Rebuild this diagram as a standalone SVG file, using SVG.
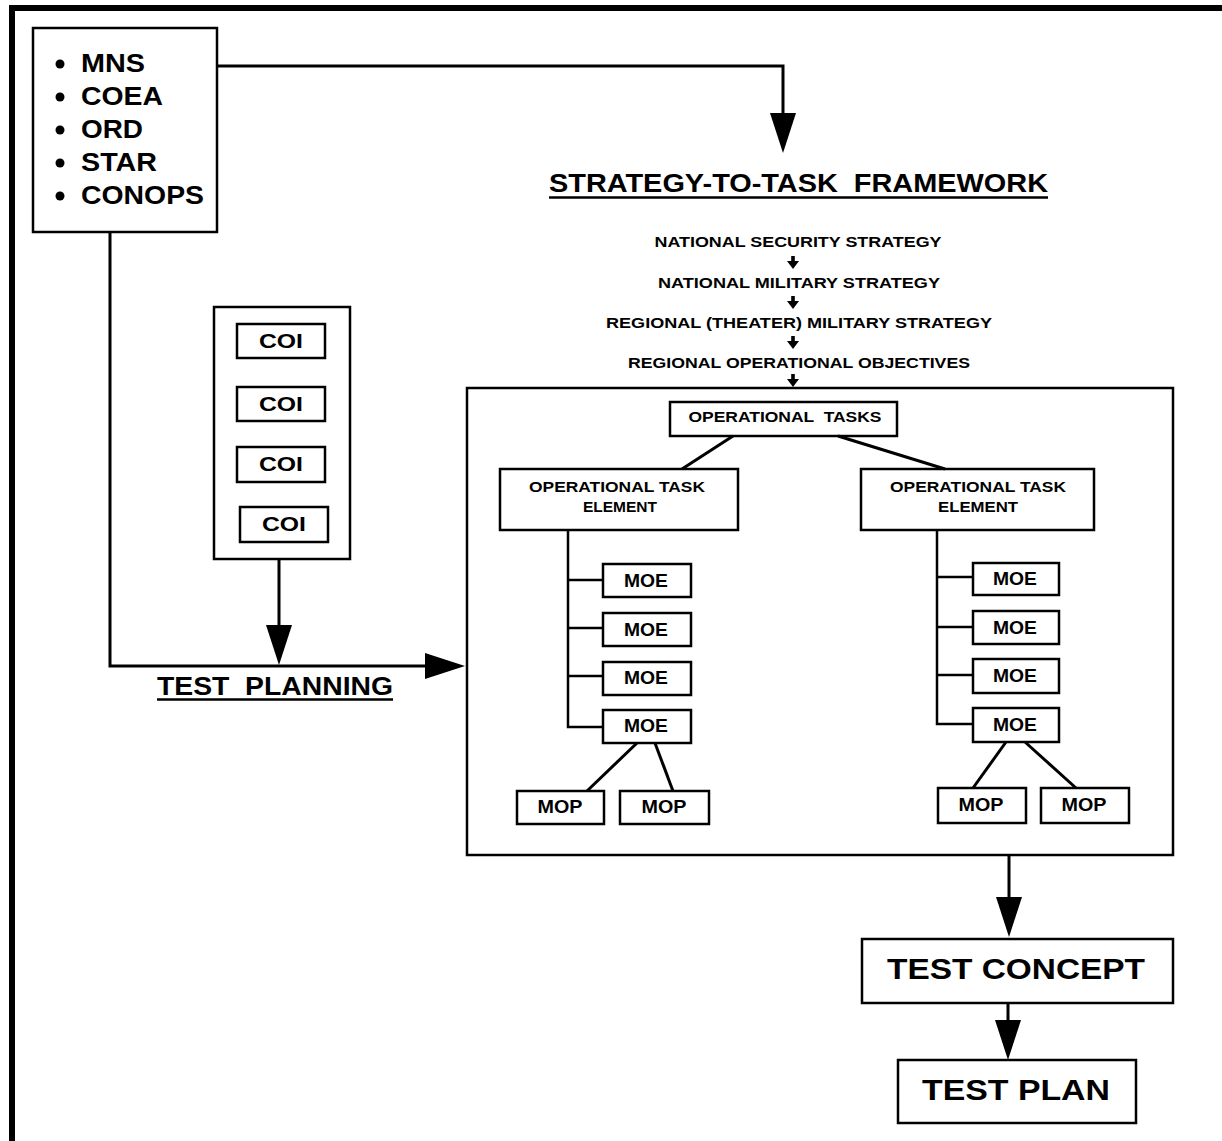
<svg xmlns="http://www.w3.org/2000/svg" width="1222" height="1141" viewBox="0 0 1222 1141">
<style>
.box{fill:#fff;stroke:#000;stroke-width:2.5}
.ln{fill:none;stroke:#000;stroke-width:3}
.thin{fill:none;stroke:#000;stroke-width:2.5}
text{font-family:"Liberation Sans",Arial,Helvetica,sans-serif;font-weight:bold;fill:#000}
.big{font-size:25px}
.hd{font-size:29px;text-anchor:middle}
.sm{font-size:15px;text-anchor:middle}
.mo{font-size:18px;text-anchor:middle}
.coi{font-size:21px;text-anchor:middle}
</style>
<defs>
<marker id="ah" markerUnits="userSpaceOnUse" markerWidth="40" markerHeight="26" viewBox="0 0 40 26" refX="34" refY="13" orient="auto">
<path d="M0,0 L40,13 L0,26 z" fill="#000"/>
</marker>
<path id="sa" d="M-1.8,-7 h3.6 v5 h4.2 L0,6 L-6,-2 h4.2 z" fill="#000"/>
</defs>
<rect width="1222" height="1141" fill="#fff"/>
<g id="frame">
<line x1="9" y1="8" x2="1222" y2="8" stroke="#000" stroke-width="6"/>
<line x1="12" y1="5" x2="12" y2="1141" stroke="#000" stroke-width="6"/>
</g>
<g id="sources">
<rect class="box" x="33" y="28" width="184" height="204"/>
<circle cx="60" cy="64" r="4.5"/><circle cx="60" cy="97" r="4.5"/><circle cx="60" cy="130" r="4.5"/><circle cx="60" cy="163" r="4.5"/><circle cx="60" cy="196" r="4.5"/>
<text class="big" x="81" y="72" textLength="64" lengthAdjust="spacingAndGlyphs">MNS</text>
<text class="big" x="81" y="105" textLength="82" lengthAdjust="spacingAndGlyphs">COEA</text>
<text class="big" x="81" y="138" textLength="62" lengthAdjust="spacingAndGlyphs">ORD</text>
<text class="big" x="81" y="171" textLength="76" lengthAdjust="spacingAndGlyphs">STAR</text>
<text class="big" x="81" y="204" textLength="123" lengthAdjust="spacingAndGlyphs">CONOPS</text>
</g>
<g id="framework-title">
<text x="549" y="192" font-size="26" textLength="499" lengthAdjust="spacingAndGlyphs" xml:space="preserve">STRATEGY-TO-TASK  FRAMEWORK</text>
<line x1="549" y1="197.5" x2="1048" y2="197.5" stroke="#000" stroke-width="2.5"/>
</g>
<g id="strategy">
<text class="sm" x="798" y="247" textLength="287" lengthAdjust="spacingAndGlyphs">NATIONAL SECURITY STRATEGY</text>
<text class="sm" x="799" y="288" textLength="282" lengthAdjust="spacingAndGlyphs">NATIONAL MILITARY STRATEGY</text>
<text class="sm" x="799" y="328" textLength="386" lengthAdjust="spacingAndGlyphs">REGIONAL (THEATER) MILITARY STRATEGY</text>
<text class="sm" x="799" y="368" textLength="342" lengthAdjust="spacingAndGlyphs">REGIONAL OPERATIONAL OBJECTIVES</text>
</g>
<g id="coi-group">
<rect class="box" x="214" y="307" width="136" height="252"/>
<rect class="box" x="237" y="324" width="88" height="34"/>
<text class="coi" x="281" y="348" textLength="44" lengthAdjust="spacingAndGlyphs">COI</text>
<rect class="box" x="237" y="387" width="88" height="34"/>
<text class="coi" x="281" y="411" textLength="44" lengthAdjust="spacingAndGlyphs">COI</text>
<rect class="box" x="237" y="447" width="88" height="35"/>
<text class="coi" x="281" y="471" textLength="44" lengthAdjust="spacingAndGlyphs">COI</text>
<rect class="box" x="240" y="507" width="88" height="35"/>
<text class="coi" x="284" y="531" textLength="44" lengthAdjust="spacingAndGlyphs">COI</text>
</g>
<g id="test-planning">
<text x="157" y="695" font-size="25" textLength="236" lengthAdjust="spacingAndGlyphs" xml:space="preserve">TEST  PLANNING</text>
<line x1="157" y1="699.5" x2="393" y2="699.5" stroke="#000" stroke-width="2.5"/>
</g>
<g id="framework-box">
<rect class="box" x="467" y="388" width="706" height="467"/>
</g>
<g id="operational-tasks">
<rect class="box" x="670" y="402" width="227" height="34"/>
<text class="sm" x="785" y="422" textLength="193" lengthAdjust="spacingAndGlyphs" xml:space="preserve">OPERATIONAL  TASKS</text>
</g>
<g id="ote-left">
<rect class="box" x="500" y="469" width="238" height="61"/>
<text class="sm" x="617" y="492" textLength="176" lengthAdjust="spacingAndGlyphs">OPERATIONAL TASK</text>
<text class="sm" x="620" y="512" textLength="74" lengthAdjust="spacingAndGlyphs">ELEMENT</text>
</g>
<g id="ote-right">
<rect class="box" x="861" y="469" width="233" height="61"/>
<text class="sm" x="978" y="492" textLength="176" lengthAdjust="spacingAndGlyphs">OPERATIONAL TASK</text>
<text class="sm" x="978" y="512" textLength="80" lengthAdjust="spacingAndGlyphs">ELEMENT</text>
</g>
<g id="moe-left">
<rect class="box" x="603" y="564" width="88" height="33"/><text class="mo" x="646" y="587" textLength="44" lengthAdjust="spacingAndGlyphs">MOE</text>
<rect class="box" x="603" y="613" width="88" height="33"/><text class="mo" x="646" y="636" textLength="44" lengthAdjust="spacingAndGlyphs">MOE</text>
<rect class="box" x="603" y="662" width="88" height="33"/><text class="mo" x="646" y="684" textLength="44" lengthAdjust="spacingAndGlyphs">MOE</text>
<rect class="box" x="603" y="710" width="88" height="33"/><text class="mo" x="646" y="732" textLength="44" lengthAdjust="spacingAndGlyphs">MOE</text>
</g>
<g id="mop-left">
<rect class="box" x="517" y="791" width="87" height="33"/><text class="mo" x="560" y="813" textLength="45" lengthAdjust="spacingAndGlyphs">MOP</text>
<rect class="box" x="620" y="791" width="89" height="33"/><text class="mo" x="664" y="813" textLength="45" lengthAdjust="spacingAndGlyphs">MOP</text>
</g>
<g id="moe-right">
<rect class="box" x="973" y="563" width="86" height="32"/><text class="mo" x="1015" y="585" textLength="44" lengthAdjust="spacingAndGlyphs">MOE</text>
<rect class="box" x="973" y="611" width="86" height="33"/><text class="mo" x="1015" y="634" textLength="44" lengthAdjust="spacingAndGlyphs">MOE</text>
<rect class="box" x="973" y="659" width="86" height="34"/><text class="mo" x="1015" y="682" textLength="44" lengthAdjust="spacingAndGlyphs">MOE</text>
<rect class="box" x="973" y="708" width="86" height="34"/><text class="mo" x="1015" y="731" textLength="44" lengthAdjust="spacingAndGlyphs">MOE</text>
</g>
<g id="mop-right">
<rect class="box" x="938" y="788" width="88" height="35"/><text class="mo" x="981" y="811" textLength="45" lengthAdjust="spacingAndGlyphs">MOP</text>
<rect class="box" x="1041" y="788" width="88" height="35"/><text class="mo" x="1084" y="811" textLength="45" lengthAdjust="spacingAndGlyphs">MOP</text>
</g>
<g id="test-concept">
<rect class="box" x="862" y="939" width="311" height="64"/>
<text class="hd" x="1016" y="979" textLength="258" lengthAdjust="spacingAndGlyphs">TEST CONCEPT</text>
</g>
<g id="test-plan">
<rect class="box" x="898" y="1060" width="238" height="63"/>
<text class="hd" x="1016" y="1100" textLength="188" lengthAdjust="spacingAndGlyphs">TEST PLAN</text>
</g>
<g id="connectors">
<polyline class="ln" points="217,66 783,66 783,147" marker-end="url(#ah)"/>
<polyline class="ln" points="110,232 110,666 459,666" marker-end="url(#ah)"/>
<line class="ln" x1="279" y1="559" x2="279" y2="659" marker-end="url(#ah)"/>
<line class="ln" x1="1009" y1="855" x2="1009" y2="931" marker-end="url(#ah)"/>
<line class="ln" x1="1008" y1="1003" x2="1008" y2="1054" marker-end="url(#ah)"/>
<line class="ln" x1="733" y1="436" x2="682" y2="469"/>
<line class="ln" x1="838" y1="436" x2="945" y2="469"/>
<polyline class="thin" points="568,530 568,727 603,727"/>
<line class="thin" x1="568" y1="580" x2="603" y2="580"/>
<line class="thin" x1="568" y1="628" x2="603" y2="628"/>
<line class="thin" x1="568" y1="676" x2="603" y2="676"/>
<line class="ln" x1="637" y1="743" x2="587" y2="791"/>
<line class="ln" x1="655" y1="743" x2="673" y2="791"/>
<polyline class="thin" points="937,530 937,724 973,724"/>
<line class="thin" x1="937" y1="577" x2="973" y2="577"/>
<line class="thin" x1="937" y1="627" x2="973" y2="627"/>
<line class="thin" x1="937" y1="675" x2="973" y2="675"/>
<line class="ln" x1="1006" y1="742" x2="973" y2="788"/>
<line class="ln" x1="1025" y1="742" x2="1076" y2="788"/>
<use href="#sa" x="793" y="263"/>
<use href="#sa" x="793" y="303"/>
<use href="#sa" x="793" y="343"/>
<use href="#sa" x="793" y="381"/>
</g>
</svg>
